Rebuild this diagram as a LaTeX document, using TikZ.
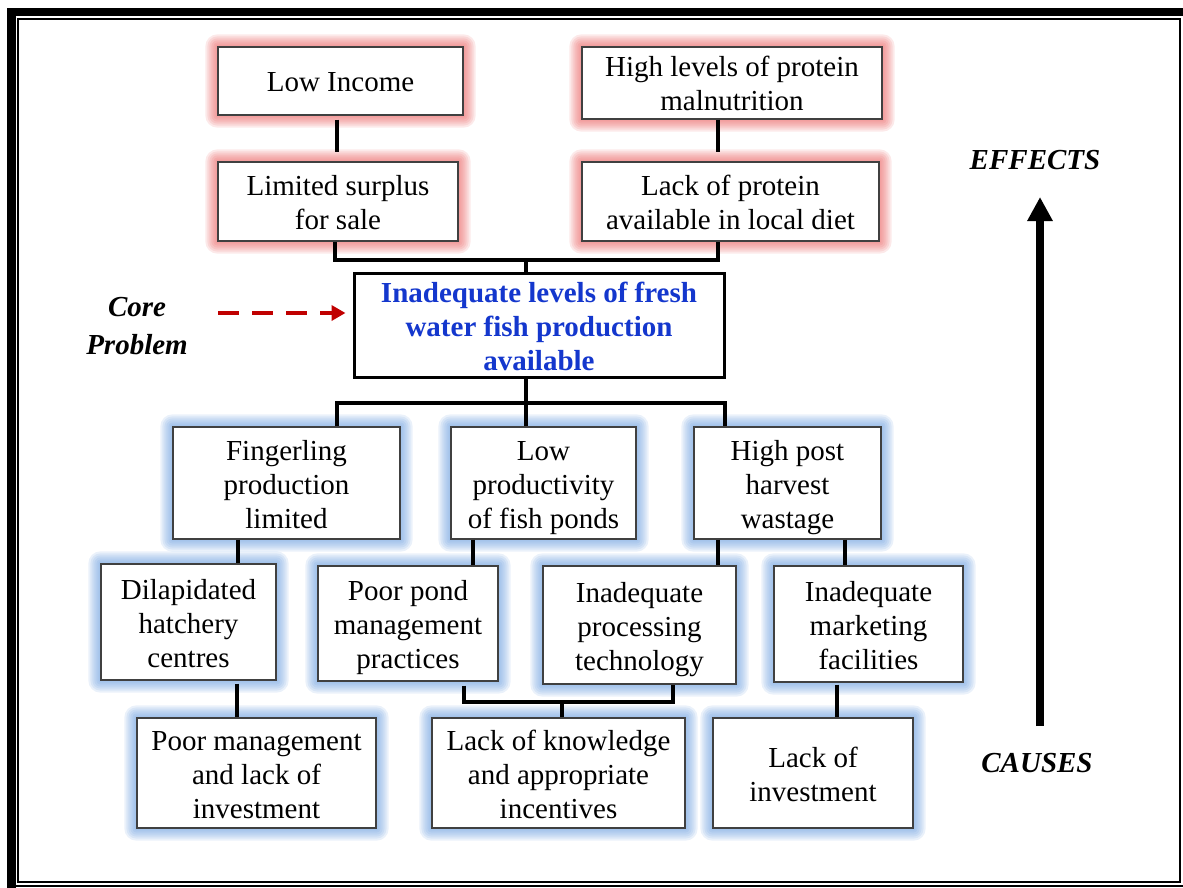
\documentclass[tikz,border=0pt]{standalone}
\usepackage{fontspec}
\setmainfont{Liberation Serif}
\usetikzlibrary{arrows.meta,calc}

\definecolor{corered}{RGB}{192,0,0}
\definecolor{coreblue}{RGB}{20,55,205}
\definecolor{effglow}{RGB}{232,85,85}
\definecolor{causeglow}{RGB}{95,150,220}

\pgfdeclarelayer{halo}
\pgfsetlayers{halo,main}

% soft coloured halo behind a box: stacked translucent rounded rectangles
\newcommand\haloaround[2]{%
  \foreach \r in {2,4,6,8,10,12}{%
    \fill[#2, fill opacity=0.13, rounded corners=\r pt]
      ([shift={(-\r pt,-\r pt)}]#1.south west) rectangle ([shift={(\r pt,\r pt)}]#1.north east);
  }}
% fixed ascent of the first line and descent of the last line of a box
\newcommand\sa{\rule{0pt}{29pt}}
\newcommand\sd{\rule[-7pt]{0pt}{7pt}}

\begin{document}
\begin{tikzpicture}[x=1pt,y=-1pt,
  box/.style={draw=black!75, line width=1.3pt, fill=white, align=center, inner sep=0pt,
    font=\fontsize{29pt}{34pt}\selectfont},
  corebox/.style={draw=black, line width=3pt, fill=white, align=center, inner sep=0pt,
    text=coreblue, font=\fontsize{29pt}{34pt}\selectfont\bfseries},
  sz/.style 2 args={minimum width=#1pt, minimum height=#2pt},
  conn/.style={line width=4pt},
  side/.style={font=\fontsize{29pt}{38pt}\selectfont\bfseries\itshape, align=center}
]
\useasboundingbox (0,0) rectangle (1183,888);

% page frame
\fill (7,8) rectangle (16,888);
\fill (7,8) rectangle (1183,16);
\draw[line width=2pt] (18,19) rectangle (1180,882);
\draw[line width=2.5pt] (16,886) -- (1183,886);

% effects
\node[box, sz={245}{68}]  (li) at (340.5,81)   {\sa Low Income\sd};
\node[box, sz={300}{72}]  (hl) at (732,83)     {\sa High levels of protein\\malnutrition\sd};
\node[box, sz={240}{79}]  (ls) at (338,201.5)  {\sa Limited surplus\\for sale\sd};
\node[box, sz={297}{79}]  (lp) at (730.5,201.5){\sa Lack of protein\\available in local diet\sd};

% core problem
\node[corebox, sz={370}{102}] (core) at (539,325)
  {\sa Inadequate levels of fresh\\water fish production\\available\sd};

% causes
\node[box, sz={227}{112}] (fp)  at (286.5,483) {\sa Fingerling\\production\\limited\sd};
\node[box, sz={185}{112}] (lpf) at (543.5,483) {\sa Low\\productivity\\of fish ponds\sd};
\node[box, sz={187}{112}] (hp)  at (787.5,483) {\sa High post\\harvest\\wastage\sd};

\node[box, sz={175}{116}] (dh) at (188.5,622) {\sa Dilapidated\\hatchery\\centres\sd};
\node[box, sz={180}{115}] (pp) at (408,623.5) {\sa Poor pond\\management\\practices\sd};
\node[box, sz={193}{118}] (ip) at (639.5,625) {\sa Inadequate\\processing\\technology\sd};
\node[box, sz={189}{116}] (im) at (868.5,624) {\sa Inadequate\\marketing\\facilities\sd};

\node[box, sz={239}{110}] (pm) at (256.5,773) {\sa Poor management\\and lack of\\investment\sd};
\node[box, sz={253}{110}] (lk) at (558.5,773) {\sa Lack of knowledge\\and appropriate\\incentives\sd};
\node[box, sz={200}{110}] (lv) at (813,773)   {\sa Lack of\\investment\sd};

% halos
\begin{pgfonlayer}{halo}
  \haloaround{li}{effglow}
  \haloaround{hl}{effglow}
  \haloaround{ls}{effglow}
  \haloaround{lp}{effglow}
  \haloaround{fp}{causeglow}
  \haloaround{lpf}{causeglow}
  \haloaround{hp}{causeglow}
  \haloaround{dh}{causeglow}
  \haloaround{pp}{causeglow}
  \haloaround{ip}{causeglow}
  \haloaround{im}{causeglow}
  \haloaround{pm}{causeglow}
  \haloaround{lk}{causeglow}
  \haloaround{lv}{causeglow}
\end{pgfonlayer}

% connector guides
\coordinate (gLI) at (337,0);
\coordinate (gHL) at (718,0);
\coordinate (gTL) at (335,0);
\coordinate (gTR) at (718,0);
\coordinate (jt)  at (526,260);
\coordinate (jm)  at (526,403);
\coordinate (b1)  at (337,403);
\coordinate (b3)  at (725,403);
\coordinate (gF)  at (238,0);
\coordinate (gP)  at (473,0);
\coordinate (gH1) at (718,0);
\coordinate (gH2) at (845,0);
\coordinate (gD)  at (237,0);
\coordinate (gPP) at (464,0);
\coordinate (gIP) at (673,0);
\coordinate (jb)  at (562,702);
\coordinate (gM)  at (837,0);

% connectors
\draw[conn, shorten <=4pt, shorten >=9pt] (li.south -| gLI) -- (ls.north -| gLI);
\draw[conn, shorten <=0pt, shorten >=9pt] (hl.south -| gHL) -- (lp.north -| gHL);
\draw[conn] (ls.south -| gTL) -- (gTL |- jt) -- (gTR |- jt) -- (lp.south -| gTR);
\draw[conn] (jt) -- (core.north -| jt);

\draw[conn] (core.south -| jm) -- (jm);
\draw[conn] (b1 |- fp.north) -- (b1) -- (b3) -- (b3 |- hp.north);
\draw[conn] (jm) -- (lpf.north -| jm);

\draw[conn] (fp.south -| gF) -- (dh.north -| gF);
\draw[conn] (lpf.south -| gP) -- (pp.north -| gP);
\draw[conn] (hp.south -| gH1) -- (ip.north -| gH1);
\draw[conn] (hp.south -| gH2) -- (im.north -| gH2);

\draw[conn, shorten <=3pt] (dh.south -| gD) -- (pm.north -| gD);
\draw[conn, shorten <=4pt] (pp.south -| gPP) -- (gPP |- jb) -- (gIP |- jb) -- (ip.south -| gIP);
\draw[conn] (jb) -- (lk.north -| jb);
\draw[conn, shorten <=2pt] (im.south -| gM) -- (lv.north -| gM);

% core problem label and pointer
\node[side] (cp) at (137,326) {Core\\Problem};
\coordinate (ds) at (218,313);
\draw[corered, line width=4pt, dash pattern=on 21pt off 13pt,
      -{Triangle[width=15pt,length=14pt]}, shorten >=7pt] (ds) -- (ds -| core.west);

% effects / causes axis
\node[side] (eff) at (1035,160) {EFFECTS};
\node[side] (cau) at (1037,763) {CAUSES};
\coordinate (abot) at (1040,726);
\coordinate (atop) at (1040,197);
\draw[line width=8pt, -{Triangle[width=24pt,length=24pt]}] (abot) -- (atop);

\end{tikzpicture}
\end{document}
